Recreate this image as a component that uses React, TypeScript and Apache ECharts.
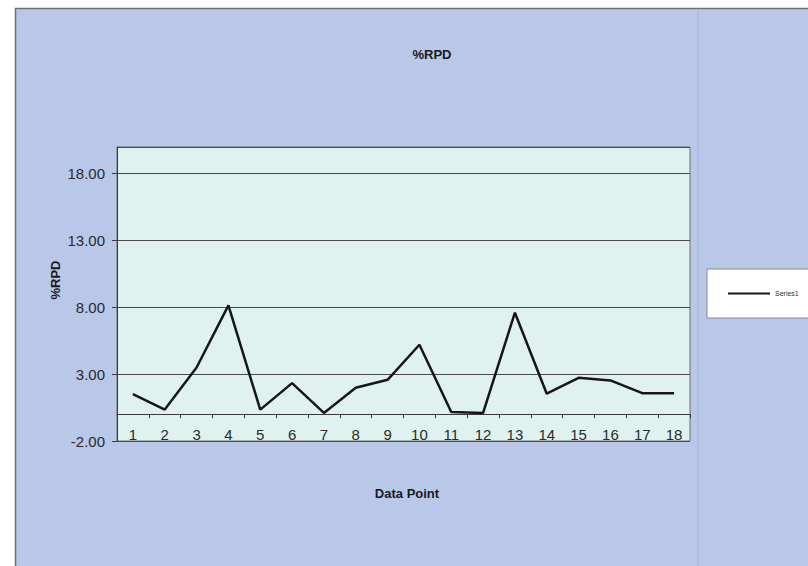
import React, { useEffect, useRef } from "react";
import * as echarts from "echarts";

const categories = ["1","2","3","4","5","6","7","8","9","10","11","12","13","14","15","16","17","18"];
const series1 = [1.5, 0.35, 3.5, 8.15, 0.35, 2.33, 0.1, 1.98, 2.58, 5.2, 0.17, 0.1, 7.6, 1.54, 2.73, 2.53, 1.58, 1.58];
const chartTitle = "%RPD";
const yTitle = "%RPD";
const xTitle = "Data Point";
const seriesName = "Series1";

export default function App() {
  const ref = useRef<HTMLDivElement>(null);
  useEffect(() => {
    if (!ref.current) return;
    const chart = echarts.init(ref.current, undefined, { renderer: "svg" });
    const font = "'Liberation Sans', Arial, sans-serif";
    chart.setOption({
      animation: false,
      backgroundColor: "#ffffff",
      textStyle: { fontFamily: font },
      graphic: [
        {
          type: "rect",
          z: -10,
          shape: { x: 15.5, y: 8.5, width: 820, height: 600 },
          style: { fill: "#b9c7e9", stroke: "#6b6f7a", lineWidth: 1.5 },
          silent: true,
        },
        {
          type: "line",
          z: -9,
          shape: { x1: 698, y1: 9, x2: 698, y2: 566 },
          style: { stroke: "#a7b4da", lineWidth: 1 },
          silent: true,
        },
        {
          type: "text",
          x: 55,
          y: 280,
          rotation: Math.PI / 2,
          style: {
            text: yTitle,
            font: `bold 13px ${font}`,
            fill: "#1a1a1a",
            align: "center",
            verticalAlign: "middle",
          },
        },
        {
          type: "text",
          x: 407,
          y: 493,
          style: {
            text: xTitle,
            font: `bold 13px ${font}`,
            fill: "#1a1a1a",
            align: "center",
            verticalAlign: "middle",
          },
        },
      ],
      title: {
        text: chartTitle,
        left: 427,
        top: 49,
        textAlign: "center",
        textVerticalAlign: "middle",
        textStyle: { fontFamily: font, fontSize: 13, fontWeight: "bold", color: "#1a1a1a" },
      },
      legend: {
        left: 707,
        top: 269,
        orient: "vertical",
        backgroundColor: "#ffffff",
        borderColor: "#8a8a8a",
        borderWidth: 1,
        padding: [21, 40, 21, 21],
        itemWidth: 42,
        itemHeight: 2,
        itemGap: 4,
        icon: "rect",
        data: [seriesName],
        textStyle: { fontFamily: font, fontSize: 7, color: "#333" },
      },
      grid: {
        left: 117,
        right: 118,
        top: 147,
        bottom: 125,
        show: true,
        backgroundColor: "#e0f2f0",
        borderColor: "#6f6f6f",
        borderWidth: 1,
      },
      xAxis: {
        type: "category",
        data: categories,
        boundaryGap: true,
        axisLine: { show: true, onZero: true, lineStyle: { color: "#3a3a3a", width: 1 } },
        axisTick: { show: true, length: 4, inside: false, lineStyle: { color: "#3a3a3a" } },
        axisLabel: { margin: -14, fontSize: 15, color: "#2a2a2a", fontFamily: font },
        splitLine: { show: false },
      },
      yAxis: {
        type: "value",
        min: -2,
        max: 20,
        interval: 5,
        axisLine: { show: true, onZero: false, lineStyle: { color: "#3a3a3a", width: 1 } },
        axisTick: { show: true, length: 5, lineStyle: { color: "#3a3a3a" } },
        axisLabel: {
          showMaxLabel: false,
          margin: 12,
          fontSize: 15,
          color: "#2a2a2a",
          fontFamily: font,
          formatter: (v: number) => (v > 19 ? "" : v.toFixed(2)),
        },
        splitLine: { show: true, lineStyle: { color: "#4a4a4a", width: 1 } },
      },
      series: [
        {
          name: seriesName,
          type: "line",
          data: series1,
          symbol: "none",
          lineStyle: { color: "#161616", width: 2.5 },
          itemStyle: { color: "#161616" },
        },
      ],
    });
    return () => chart.dispose();
  }, []);
  return (
    <div
      ref={ref}
      style={{ position: "fixed", left: 0, top: 0, width: 808, height: 566 }}
    />
  );
}
